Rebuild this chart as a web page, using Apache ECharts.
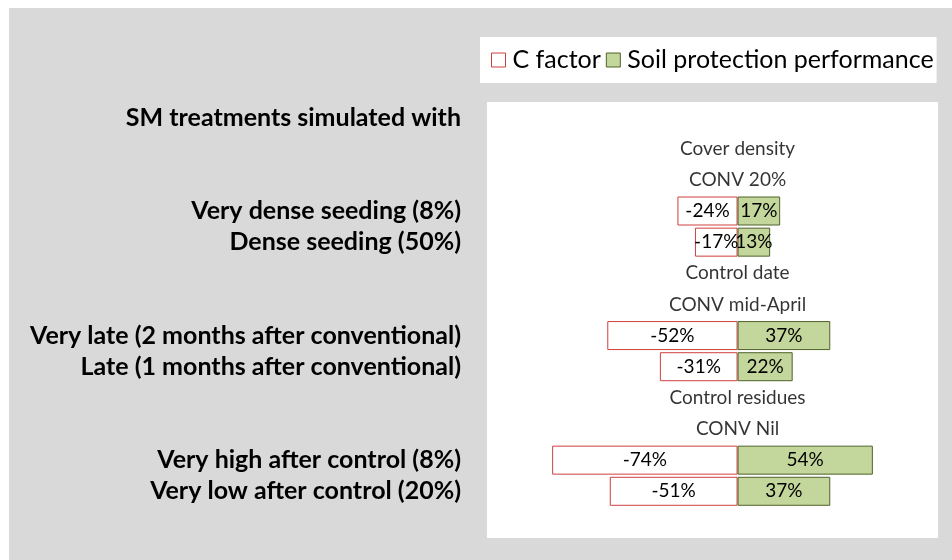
<!DOCTYPE html>
<html>
<head>
<meta charset="utf-8">
<script src="https://cdn.jsdelivr.net/npm/echarts@6/dist/echarts.min.js"></script>
<style>
  html, body { margin: 0; padding: 0; background: #fff; }
  #wrap { position: relative; width: 952px; height: 560px; overflow: hidden; }
  #chart { position: absolute; left: 9px; top: 8px; width: 943px; height: 552px; background: #d9d9d9; }
</style>
</head>
<body>
<div id="wrap"><div id="chart"></div></div>
<script>
// row labels on the left (top to bottom)
var categories = [
  'SM treatments simulated with',
  '', '',
  'Very dense seeding (8%)',
  'Dense seeding (50%)',
  '', '',
  'Very late (2 months after conventional)',
  'Late (1 months after conventional)',
  '', '',
  'Very high after control (8%)',
  'Very low after control (20%)',
  ''
];
// text in the middle of the plot
var midLabels = [
  '', 'Cover density', 'CONV 20%', '', '',
  'Control date', 'CONV mid-April', '', '',
  'Control residues', 'CONV Nil', '', '', ''
];
// C factor change (%)
var cFactor = [null, null, null, -24, -17, null, null, -52, -31, null, null, -74, -51, null];
// soil protection performance (%)
var soilProt = [null, null, null, 17, 13, null, null, 37, 22, null, null, 54, 37, null];

var FONT = 'Lato, "Open Sans", sans-serif';

var midData = [];
midLabels.forEach(function (t, i) {
  if (t) midData.push({ value: [0, i], name: t });
});

var myChart = echarts.init(document.getElementById('chart'));
myChart.setOption({
  animation: false,
  textStyle: { fontFamily: FONT },
  legend: {
    data: [
      { name: 'C factor', icon: 'rect', itemStyle: { color: '#fff', borderColor: '#d03f3f', borderWidth: 1 } },
      { name: 'Soil protection performance', icon: 'rect', itemStyle: { color: '#c3d69b', borderColor: '#4f6228', borderWidth: 1 } }
    ],
    left: 471,
    top: 29,
    backgroundColor: '#fff',
    padding: [10, 3, 10, 11],
    itemGap: 5,
    itemWidth: 14,
    itemHeight: 14,
    textStyle: { fontSize: 25, lineHeight: 26, color: '#000', fontFamily: FONT, padding: [0, 0, 0, 2] }
  },
  grid: {
    left: 478, right: 14, top: 94, bottom: 22,
    show: true, backgroundColor: '#fff', borderWidth: 0
  },
  xAxis: {
    type: 'value', min: -100, max: 80, show: false
  },
  yAxis: {
    type: 'category',
    inverse: true,
    data: categories,
    axisLine: { show: false },
    axisTick: { show: false },
    axisLabel: { interval: 0, fontSize: 25, fontWeight: 'bold', color: '#000', margin: 26, fontFamily: FONT }
  },
  series: [
    {
      name: 'C factor',
      type: 'bar',
      stack: 'all',
      barWidth: 29,
      data: cFactor,
      itemStyle: { color: '#fff', borderColor: '#d03f3f', borderWidth: 1 },
      label: {
        show: true, position: 'inside', color: '#000', fontSize: 19, fontFamily: FONT,
        formatter: function (p) { return p.value + '%'; }
      }
    },
    {
      name: 'Soil protection performance',
      type: 'bar',
      stack: 'all',
      barWidth: 29,
      data: soilProt,
      itemStyle: { color: '#c3d69b', borderColor: '#4f6228', borderWidth: 1 },
      label: {
        show: true, position: 'inside', color: '#000', fontSize: 19, fontFamily: FONT,
        formatter: function (p) { return p.value + '%'; }
      }
    },
    {
      name: 'mid',
      type: 'scatter',
      symbolSize: 0,
      data: midData,
      label: {
        show: true, position: 'inside', color: '#000', fontSize: 19, fontFamily: FONT,
        formatter: function (p) { return p.name; }
      }
    }
  ]
});
</script>
</body>
</html>
